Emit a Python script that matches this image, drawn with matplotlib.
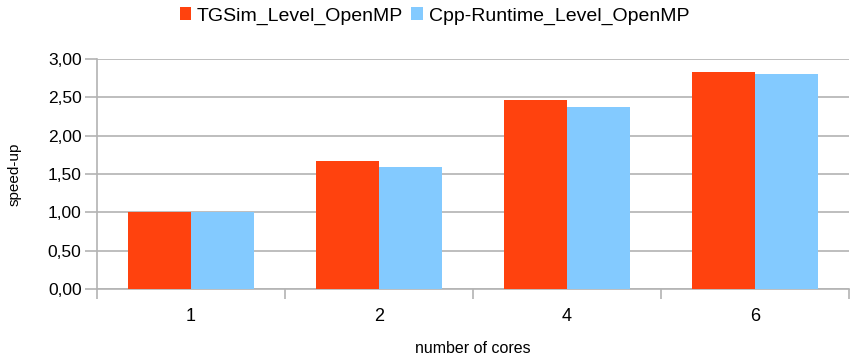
import matplotlib.pyplot as plt
import numpy as np
from matplotlib.ticker import FuncFormatter, FixedLocator

plt.rcParams['font.family'] = ['Liberation Sans', 'DejaVu Sans']

cores = ["1", "2", "4", "6"]
tgsim = [1.00, 1.67, 2.47, 2.83]
cpp_runtime = [1.00, 1.59, 2.37, 2.80]

grid_col = "#b3b3b3"

fig = plt.figure(figsize=(8.5, 3.57), dpi=100)
ax = fig.add_axes([0.114, 0.1905, 0.885, 0.6442])

x = np.arange(len(cores))
w = 0.335
ax.bar(x - w / 2, tgsim, w, color="#ff420e", label="TGSim_Level_OpenMP", zorder=3)
ax.bar(x + w / 2, cpp_runtime, w, color="#83caff", label="Cpp-Runtime_Level_OpenMP", zorder=3)

ax.set_xlim(-0.5, len(cores) - 0.5)
ax.set_ylim(0, 3.0)
ax.set_yticks(np.arange(0, 3.01, 0.5))
ax.yaxis.set_major_formatter(FuncFormatter(lambda v, p: f"{v:.2f}".replace(".", ",")))
ax.grid(axis="y", color=grid_col, linewidth=1.2, zorder=0)

ax.set_xticks(x)
ax.set_xticklabels(cores)
ax.xaxis.set_minor_locator(FixedLocator(np.arange(-0.5, len(cores), 1.0)))
ax.tick_params(axis="x", which="major", length=0, pad=14, labelsize=13)
ax.tick_params(axis="x", which="minor", length=7, color=grid_col, width=1.2)
ax.tick_params(axis="y", length=9, color=grid_col, width=1.2, labelsize=12.5, pad=2)

for s in ["top", "right"]:
    ax.spines[s].set_visible(False)
for s in ["left", "bottom"]:
    ax.spines[s].set_color(grid_col)
    ax.spines[s].set_linewidth(1.2)

ax.set_xlabel("number of cores", fontsize=11.5, va="center")
ax.xaxis.set_label_coords(0.5, -0.257)
ax.set_ylabel("speed-up", fontsize=11, va="center")
ax.yaxis.set_label_coords(-0.109, 0.5)

fig.legend(loc="center", bbox_to_anchor=(0.511, 0.955), ncol=2, frameon=False,
           fontsize=14, handlelength=0.6, handleheight=0.6, handletextpad=0.3,
           columnspacing=0.4)

fig.savefig("out.png", dpi=100)
